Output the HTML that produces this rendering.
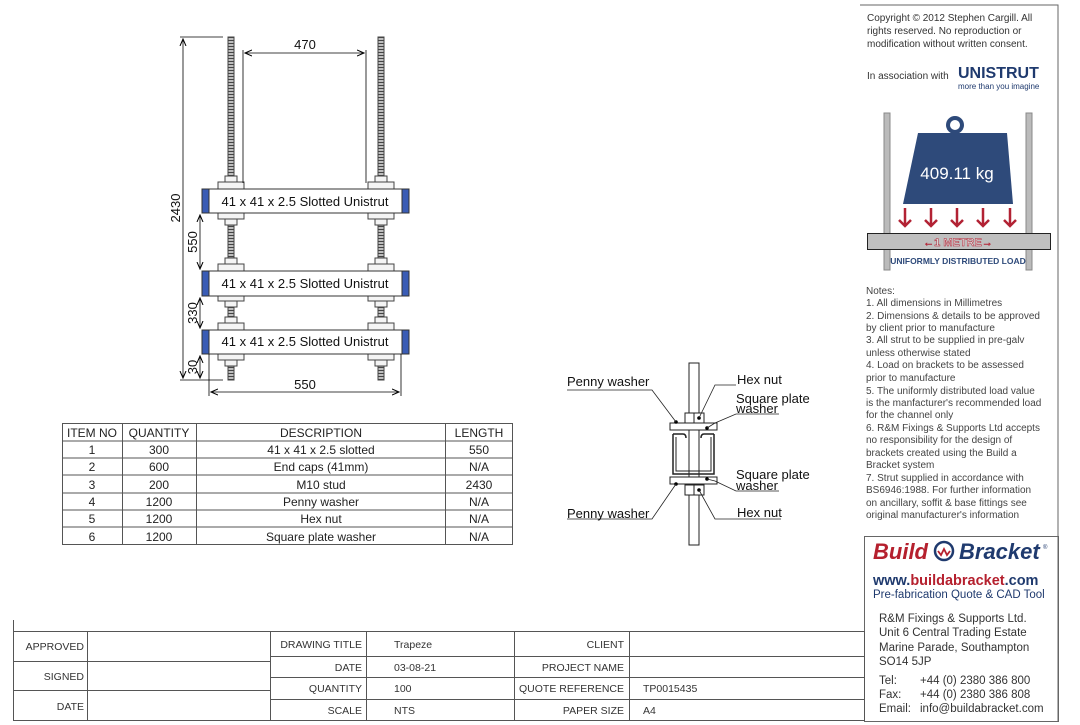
<!DOCTYPE html>
<html><head><meta charset="utf-8"><style>
body{margin:0;background:#fff;}
svg{display:block;font-family:"Liberation Sans",Arial,sans-serif;}
</style></head><body>
<svg width="1080" height="725" viewBox="0 0 1080 725" xmlns="http://www.w3.org/2000/svg">
<defs>
<pattern id="thr" width="6" height="3" patternUnits="userSpaceOnUse"><rect width="6" height="3" fill="#ddd"/><line x1="0" y1="1.5" x2="6" y2="1.5" stroke="#444" stroke-width="1.4"/></pattern>
<marker id="ar" markerWidth="8" markerHeight="8" refX="7" refY="4" orient="auto-start-reverse" markerUnits="userSpaceOnUse"><path d="M0,1 L7,4 L0,7" fill="none" stroke="#000" stroke-width="1"/></marker>
</defs>

<polyline points="860,5 1058,5 1058,721" fill="none" stroke="#666" stroke-width="1"/>
<rect x="864.5" y="536.5" width="194" height="185" fill="none" stroke="#666"/>

<g stroke="#444" stroke-width="1">
<rect x="228" y="37" width="6" height="343" fill="url(#thr)"/>
<rect x="378" y="37" width="6" height="343" fill="url(#thr)"/>
</g>
<g fill="#f4f4f4" stroke="#444" stroke-width="1">
<g id="nw">
<rect x="225" y="176" width="12" height="6"/><rect x="218" y="182" width="26" height="7"/>
<rect x="218" y="213" width="26" height="6"/><rect x="225" y="219" width="12" height="6"/>
</g>
<use href="#nw" x="150"/>
<use href="#nw" y="82"/><use href="#nw" x="150" y="82"/>
<use href="#nw" y="141"/><use href="#nw" x="150" y="141"/>
</g>
<g stroke="#333" stroke-width="1">
<rect x="202" y="189" width="207" height="24" fill="#fff"/>
<rect x="202" y="271" width="207" height="25" fill="#fff"/>
<rect x="202" y="330" width="207" height="24" fill="#fff"/>
<g fill="#3a5cb5">
<rect x="202" y="189" width="7" height="24"/><rect x="402" y="189" width="7" height="24"/>
<rect x="202" y="271" width="7" height="25"/><rect x="402" y="271" width="7" height="25"/>
<rect x="202" y="330" width="7" height="24"/><rect x="402" y="330" width="7" height="24"/>
</g></g>
<g font-size="13" text-anchor="middle" fill="#111">
<text x="305" y="206">41 x 41 x 2.5 Slotted Unistrut</text>
<text x="305" y="288">41 x 41 x 2.5 Slotted Unistrut</text>
<text x="305" y="346">41 x 41 x 2.5 Slotted Unistrut</text>
</g>
<g stroke="#000" stroke-width="0.8" fill="none">
<line x1="180" y1="37" x2="223" y2="37"/><line x1="180" y1="380" x2="223" y2="380"/>
<line x1="183" y1="39" x2="183" y2="378" marker-start="url(#ar)" marker-end="url(#ar)"/>
<line x1="243" y1="50" x2="243" y2="183"/><line x1="366" y1="50" x2="366" y2="183"/>
<line x1="245" y1="53" x2="364" y2="53" marker-start="url(#ar)" marker-end="url(#ar)"/>
<line x1="200" y1="215" x2="200" y2="269" marker-start="url(#ar)" marker-end="url(#ar)"/>
<line x1="200" y1="298" x2="200" y2="328" marker-start="url(#ar)" marker-end="url(#ar)"/>
<line x1="200" y1="356" x2="200" y2="378" marker-start="url(#ar)" marker-end="url(#ar)"/>
<line x1="209" y1="354" x2="209" y2="396"/><line x1="401" y1="354" x2="401" y2="396"/>
<line x1="211" y1="392" x2="399" y2="392" marker-start="url(#ar)" marker-end="url(#ar)"/>
</g>
<g font-size="13" fill="#111" text-anchor="middle">
<text x="305" y="49">470</text>
<text x="305" y="389">550</text>
<text transform="translate(180,208) rotate(-90)">2430</text>
<text transform="translate(197,242) rotate(-90)">550</text>
<text transform="translate(197,313) rotate(-90)">330</text>
<text transform="translate(197,367) rotate(-90)">30</text>
</g>

<g stroke="#555" stroke-width="1" fill="none">
<rect x="62.5" y="423.5" width="450" height="121"/>
<line x1="122.5" y1="423" x2="122.5" y2="545"/><line x1="196.5" y1="423" x2="196.5" y2="545"/><line x1="445.5" y1="423" x2="445.5" y2="545"/>
<line x1="62" y1="441" x2="513" y2="441"/><line x1="62" y1="458" x2="513" y2="458"/><line x1="62" y1="475" x2="513" y2="475"/><line x1="62" y1="493" x2="513" y2="493"/><line x1="62" y1="510" x2="513" y2="510"/><line x1="62" y1="527" x2="513" y2="527"/>
</g>
<g font-size="12" fill="#222" text-anchor="middle">
<text x="92" y="437">ITEM NO</text><text x="159" y="437">QUANTITY</text><text x="321" y="437">DESCRIPTION</text><text x="479" y="437">LENGTH</text>
<text x="92" y="454">1</text><text x="159" y="454">300</text><text x="321" y="454">41 x 41 x 2.5 slotted</text><text x="479" y="454">550</text>
<text x="92" y="471">2</text><text x="159" y="471">600</text><text x="321" y="471">End caps (41mm)</text><text x="479" y="471">N/A</text>
<text x="92" y="489">3</text><text x="159" y="489">200</text><text x="321" y="489">M10 stud</text><text x="479" y="489">2430</text>
<text x="92" y="506">4</text><text x="159" y="506">1200</text><text x="321" y="506">Penny washer</text><text x="479" y="506">N/A</text>
<text x="92" y="523">5</text><text x="159" y="523">1200</text><text x="321" y="523">Hex nut</text><text x="479" y="523">N/A</text>
<text x="92" y="541">6</text><text x="159" y="541">1200</text><text x="321" y="541">Square plate washer</text><text x="479" y="541">N/A</text>
</g>

<g stroke="#222" stroke-width="1" fill="#fff">
<rect x="689" y="363" width="10" height="182"/>
<rect x="685" y="413" width="19" height="10"/><line x1="694" y1="413" x2="694" y2="423"/>
<rect x="670" y="423" width="47" height="7"/>
<path d="M673,434 v40 h41 v-40 M673,434 h10 q3,0 3,4 M714,434 h-10 q-3,0 -3,4" fill="none" stroke-width="1.5"/>
<path d="M676,437 v34 h35 v-34" fill="none"/>
<rect x="670" y="477" width="47" height="7"/>
<rect x="685" y="485" width="19" height="10"/><line x1="694" y1="485" x2="694" y2="495"/>
<line x1="689" y1="430" x2="689" y2="477"/><line x1="699" y1="430" x2="699" y2="477"/>
</g>
<g fill="#000">
<circle cx="676" cy="422" r="1.8"/><circle cx="699" cy="418" r="1.8"/><circle cx="707" cy="428" r="1.8"/>
<circle cx="676" cy="484" r="1.8"/><circle cx="699" cy="490" r="1.8"/><circle cx="707" cy="479" r="1.8"/>
</g>
<g stroke="#222" stroke-width="0.8" fill="none">
<polyline points="567,390 652,390 676,422"/>
<polyline points="736,385 715,385 699,418"/>
<polyline points="779,414 736,414 715,423 707,428"/>
<polyline points="779,491 736,491 715,481 707,479"/>
<polyline points="567,519 652,519 676,484"/>
<polyline points="781,519 715,519 699,490"/>
</g>
<g font-size="13" fill="#111">
<text x="567" y="386">Penny washer</text>
<text x="737" y="384">Hex nut</text>
<text x="736" y="403">Square plate</text><text x="736" y="413">washer</text>
<text x="736" y="479">Square plate</text><text x="736" y="490">washer</text>
<text x="567" y="518">Penny washer</text>
<text x="737" y="517">Hex nut</text>
</g>

<g font-size="10" fill="#333">
<text x="867" y="21">Copyright © 2012 Stephen Cargill. All</text>
<text x="867" y="34">rights reserved. No reproduction or</text>
<text x="867" y="47">modification without written consent.</text>
<text x="867" y="79">In association with</text>
</g>
<text x="958" y="78" font-size="16" font-weight="bold" fill="#1f3a6e">UNISTRUT</text>
<text x="958" y="89" font-size="8" fill="#1f3a6e">more than you imagine</text>

<rect x="884" y="113" width="6" height="157" fill="#bbb" stroke="#888"/>
<rect x="1026" y="113" width="6" height="157" fill="#bbb" stroke="#888"/>
<circle cx="955" cy="125" r="7" fill="none" stroke="#2e4a7a" stroke-width="4"/>
<polygon points="918,133 1007,133 1013,204 903,204" fill="#2e4a7a"/>
<text x="957" y="179" font-size="17" fill="#fff" text-anchor="middle">409.11 kg</text>
<g stroke="#b22234" stroke-width="2.5" fill="none">
<path d="M905,208 v18 M899,220 l6,6 6,-6"/><path d="M931,208 v18 M925,220 l6,6 6,-6"/><path d="M957,208 v18 M951,220 l6,6 6,-6"/><path d="M983,208 v18 M977,220 l6,6 6,-6"/><path d="M1010,208 v18 M1004,220 l6,6 6,-6"/>
</g>
<rect x="867.5" y="233.5" width="183" height="16" fill="#bfbfbf" stroke="#222"/>
<text x="958" y="246" font-size="11" font-weight="bold" fill="#ddd" stroke="#b22234" stroke-width="0.5" text-anchor="middle">←1 METRE→</text>
<text x="958" y="264" font-size="8.5" font-weight="bold" fill="#2e4a7a" text-anchor="middle">UNIFORMLY DISTRIBUTED LOAD</text>

<g font-size="10" fill="#444">
<text x="866" y="294">Notes:</text>
<text x="866" y="306">1. All dimensions in Millimetres</text>
<text x="866" y="319">2. Dimensions &amp; details to be approved</text>
<text x="866" y="331">by client prior to manufacture</text>
<text x="866" y="343">3. All strut to be supplied in pre-galv</text>
<text x="866" y="356">unless otherwise stated</text>
<text x="866" y="368">4. Load on brackets to be assessed</text>
<text x="866" y="381">prior to manufacture</text>
<text x="866" y="394">5. The uniformly distributed load value</text>
<text x="866" y="406">is the manfacturer's recommended load</text>
<text x="866" y="418">for the channel only</text>
<text x="866" y="431">6. R&amp;M Fixings &amp; Supports Ltd accepts</text>
<text x="866" y="443">no responsibility for the design of</text>
<text x="866" y="456">brackets created using the Build a</text>
<text x="866" y="468">Bracket system</text>
<text x="866" y="481">7. Strut supplied in accordance with</text>
<text x="866" y="493">BS6946:1988. For further information</text>
<text x="866" y="506">on ancillary, soffit &amp; base fittings see</text>
<text x="866" y="518">original manufacturer's information</text>
</g>

<text x="873" y="559" font-size="22" font-weight="bold" font-style="italic" fill="#b5202e">Build</text>
<circle cx="944" cy="551" r="9" fill="none" stroke="#1f3a6e" stroke-width="2.5"/>
<path d="M938,551 l3,4 3,-6 3,6 3,-4" fill="none" stroke="#b5202e" stroke-width="1.8"/>
<text x="959" y="559" font-size="22" font-weight="bold" font-style="italic" fill="#1f3a6e">Bracket</text>
<text x="1043" y="549" font-size="6" fill="#1f3a6e">®</text>
<text x="873" y="585" font-size="14.5" font-weight="bold" fill="#1f3a6e">www.<tspan fill="#b5202e">buildabracket</tspan>.com</text>
<text x="873" y="598" font-size="11.5" fill="#1f3a6e">Pre-fabrication Quote &amp; CAD Tool</text>
<g font-size="11.5" fill="#333">
<text x="879" y="622">R&amp;M Fixings &amp; Supports Ltd.</text>
<text x="879" y="636">Unit 6 Central Trading Estate</text>
<text x="879" y="651">Marine Parade, Southampton</text>
<text x="879" y="665">SO14 5JP</text>
<text x="879" y="684">Tel:</text><text x="920" y="684">+44 (0) 2380 386 800</text>
<text x="879" y="698">Fax:</text><text x="920" y="698">+44 (0) 2380 386 808</text>
<text x="879" y="712">Email:</text><text x="920" y="712">info@buildabracket.com</text>
</g>

<g stroke="#555" stroke-width="1" fill="none">
<line x1="13.5" y1="620" x2="13.5" y2="721"/>
<rect x="13.5" y="631.5" width="851" height="89"/>
<line x1="87.5" y1="631" x2="87.5" y2="721"/><line x1="270.5" y1="631" x2="270.5" y2="721"/>
<line x1="366.5" y1="631" x2="366.5" y2="721"/><line x1="514.5" y1="631" x2="514.5" y2="721"/><line x1="629.5" y1="631" x2="629.5" y2="721"/>
<line x1="13" y1="661.5" x2="270" y2="661.5"/><line x1="13" y1="690.5" x2="270" y2="690.5"/>
<line x1="270" y1="656.5" x2="865" y2="656.5"/><line x1="270" y1="677.5" x2="865" y2="677.5"/><line x1="270" y1="699.5" x2="865" y2="699.5"/>
</g>
<g font-size="10.5" fill="#333">
<g text-anchor="end">
<text x="84" y="650">APPROVED</text><text x="84" y="680">SIGNED</text><text x="84" y="710">DATE</text>
<text x="362" y="648">DRAWING TITLE</text><text x="362" y="671">DATE</text><text x="362" y="692">QUANTITY</text><text x="362" y="714">SCALE</text>
<text x="624" y="648">CLIENT</text><text x="624" y="671">PROJECT NAME</text><text x="624" y="692">QUOTE REFERENCE</text><text x="624" y="714">PAPER SIZE</text>
</g>
<text x="394" y="648">Trapeze</text><text x="394" y="671">03-08-21</text><text x="394" y="692">100</text><text x="394" y="714">NTS</text>
<text x="643" y="692">TP0015435</text><text x="643" y="714">A4</text>
</g>
</svg>
</body></html>
